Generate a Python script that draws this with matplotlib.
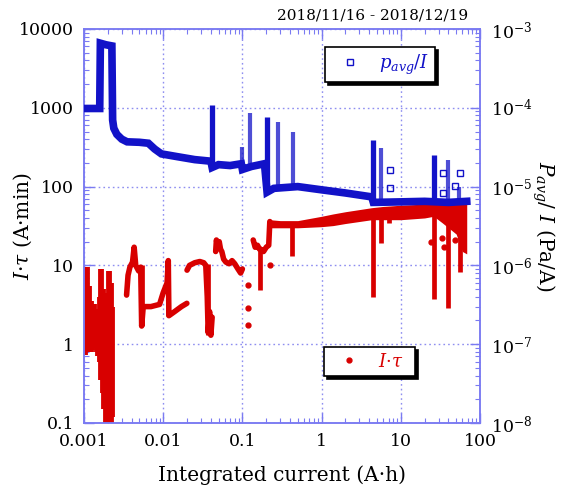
import numpy as np
import matplotlib
matplotlib.use("Agg")
import matplotlib.pyplot as plt
from matplotlib.lines import Line2D
from matplotlib.ticker import FuncFormatter, NullFormatter

plt.rcParams["font.family"] = "DejaVu Serif"
plt.rcParams["mathtext.fontset"] = "dejavuserif"
plt.rcParams["axes.unicode_minus"] = False

BLUE = "#1212c8"
RED = "#d80000"
SPINE = "#7a7af2"
GRID = "#8e8ef0"

# ---- p_avg / I  (Pa/A, right axis) ------------------------------------------
pavg_x = [0.001, 0.00158, 0.00161, 0.0019, 0.00225, 0.0023, 0.00238, 0.0026,
          0.0030, 0.0035, 0.005, 0.0065, 0.0078, 0.0095, 0.015, 0.025, 0.040, 0.0415,
          0.05, 0.07, 0.097, 0.100, 0.13, 0.19, 0.205, 0.25, 0.5, 1.0, 2.0,
          4.3, 4.5, 10, 20, 40, 68]
pavg_y = [9.8e-5, 9.8e-5, 6.6e-4, 6.3e-4, 6.1e-4, 7.0e-5, 5.5e-5, 4.6e-5,
          4.0e-5, 3.7e-5, 3.65e-5, 3.55e-5, 3.0e-5, 2.6e-5, 2.4e-5, 2.2e-5, 2.1e-5, 1.75e-5,
          1.9e-5, 1.85e-5, 1.95e-5, 1.65e-5, 1.8e-5, 1.95e-5, 8.5e-6, 9.5e-6, 1.0e-5,
          9.1e-6, 8.3e-6, 7.4e-6, 6.3e-6, 6.4e-6, 6.5e-6, 6.3e-6, 6.5e-6]

# solid spikes and stacks of hollow squares
pavg_spike_x = [0.0412, 0.205, 4.4, 26]
pavg_spike_lo = [1.7e-5, 8.3e-6, 6.0e-6, 6.0e-6]
pavg_spike_hi = [1.1e-4, 7.6e-5, 3.9e-5, 2.5e-5]
pavg_stack_x = [0.098, 0.125, 0.28, 0.435, 5.6, 40, 54]
pavg_stack_lo = [1.7e-5, 1.8e-5, 9.5e-6, 9.5e-6, 6.0e-6, 6.0e-6, 6.0e-6]
pavg_stack_hi = [3.2e-5, 8.6e-5, 6.6e-5, 4.9e-5, 3.1e-5, 2.2e-5, 1.0e-5]

pavg_pts_x = [7.3, 7.3, 34, 56, 34, 48]
pavg_pts_y = [1.62e-5, 9.6e-6, 1.5e-5, 1.48e-5, 8.3e-6, 1.03e-5]

# ---- I*tau  (A*min, left axis) -----------------------------------------------
itau_cloud_x = [0.00100, 0.00104, 0.00108, 0.00112, 0.00117, 0.00122, 0.00128,
                0.00134, 0.00140, 0.00146, 0.00152, 0.00159, 0.00166, 0.00173,
                0.00180, 0.00188, 0.00196, 0.00204, 0.00212, 0.00220, 0.00228]
itau_cloud_lo = [0.75, 0.72, 0.8, 0.85, 0.9, 0.8, 0.85, 0.95, 0.9, 0.8, 0.7,
                 0.6, 0.35, 0.24, 0.15, 0.1, 0.1, 0.1, 0.1, 0.1, 0.12]
itau_cloud_hi = [2.8, 3.2, 9.5, 4.5, 5.5, 3.5, 3.0, 3.2, 2.6, 2.4, 2.8, 4.0,
                 9.0, 5.0, 3.5, 4.5, 2.8, 8.5, 5.0, 6.0, 3.0]

nan = np.nan
itau_x = [0.00345, 0.0036, 0.0038, 0.0041, 0.0043, 0.0045, 0.0049, 0.0052, 0.00535,
          0.0056, 0.0070, 0.0090, 0.0100, 0.0112, 0.0116, 0.0118, 0.0140, 0.0170, 0.0199,
          nan,
          0.0200, 0.0215, 0.025, 0.029, 0.0325, 0.0345, 0.0360, 0.0370, 0.0385, 0.040, 0.0415,
          nan,
          0.046, 0.047, 0.049, 0.051, 0.053, 0.055, 0.058, 0.062, 0.068, 0.074, 0.080,
          0.088, 0.095, 0.100,
          nan,
          0.137, 0.145, 0.155, 0.165, 0.170, 0.185, 0.20, 0.215, 0.222]
itau_y = [4.2, 7.5, 9.5, 11, 17, 10, 8.5, 9.5, 1.7,
          3.0, 3.0, 3.2, 4.5, 6.0, 11.5, 2.3, 2.6, 3.0, 3.3,
          nan,
          8.7, 10.0, 10.8, 11.2, 10.8, 10.0, 4.0, 1.4, 2.6, 1.3, 2.2,
          nan,
          15, 21, 17, 20, 16, 15, 12, 11, 10.5, 11.5, 10.5,
          9.0, 8.0, 9.0,
          nan,
          21, 17, 18, 16, 16, 15, 17, 18, 36]

itau_band_x = [0.222, 0.30, 0.50, 1.0, 1.4, 2.0, 4.3, 6.0, 10, 20, 26, 33, 40, 50, 60, 68]
itau_band_lo = [30, 30, 30, 31, 32, 34, 38, 38, 38, 40, 42, 35, 30, 25, 15, 14]
itau_band_hi = [38, 37, 37, 42, 45, 48, 54, 56, 58, 60, 62, 60, 60, 62, 66, 68]

itau_spike_x = [0.00535, 0.0116, 0.0365, 0.167, 0.42, 4.45, 5.6, 7.1, 26.5, 39, 56]
itau_spike_lo = [1.7, 2.3, 1.3, 4.9, 13, 4.0, 19, 35, 3.7, 2.9, 8.3]
itau_spike_hi = [10, 11.7, 10.5, 17, 36, 50, 50, 50, 55, 55, 55]

itau_pts_x = [0.118, 0.118, 0.118, 0.224, 33, 35, 48, 24]
itau_pts_y = [5.6, 2.9, 1.75, 10, 22, 17, 21, 20]


def decade(v, _pos=None):
    return f"{v:g}"


fig = plt.figure(figsize=(5.61, 4.88), dpi=100)
ax = fig.add_axes([0.1497, 0.1332, 0.7059, 0.8074])
ax2 = ax.twinx()

# red: I*tau
ax.vlines(itau_cloud_x, itau_cloud_lo, itau_cloud_hi, color=RED, lw=4.2, zorder=2)
ax.vlines(itau_spike_x, itau_spike_lo, itau_spike_hi, color=RED, lw=3.4, zorder=2)
ax.plot(itau_x, itau_y, color=RED, lw=4.0, solid_capstyle="round",
        solid_joinstyle="round", zorder=2)
ax.fill_between(itau_band_x, itau_band_lo, itau_band_hi, color=RED, lw=0, zorder=2)
ax.plot(itau_pts_x, itau_pts_y, "o", color=RED, ms=3.5, zorder=2)

# blue: p_avg / I
ax2.plot(pavg_x, pavg_y, color=BLUE, lw=5.5, solid_joinstyle="miter", zorder=3)
ax2.vlines(pavg_spike_x, pavg_spike_lo, pavg_spike_hi, color=BLUE, lw=3.8, zorder=3)
ax2.vlines(pavg_stack_x, pavg_stack_lo, pavg_stack_hi, color=BLUE, lw=3.0,
           alpha=0.75, zorder=3)
ax2.plot(pavg_pts_x, pavg_pts_y, "s", mfc="none", mec=BLUE, ms=4, mew=1, zorder=3)

ax.set_xscale("log")
ax.set_yscale("log")
ax2.set_yscale("log")
ax.set_xlim(1e-3, 100)
ax.set_ylim(0.1, 1e4)
ax2.set_ylim(1e-8, 1e-3)

ax.xaxis.set_major_formatter(FuncFormatter(decade))
ax.yaxis.set_major_formatter(FuncFormatter(decade))
ax.xaxis.set_minor_formatter(NullFormatter())
ax.yaxis.set_minor_formatter(NullFormatter())
ax2.yaxis.set_minor_formatter(NullFormatter())

ax.grid(True, which="major", color=GRID, ls=(0, (1.2, 2.2)), lw=1.0, zorder=0)
ax.tick_params(which="both", direction="in", top=True, right=False,
               color=SPINE, labelsize=12.5)
ax.tick_params(which="major", length=7, width=1, pad=7)
ax.tick_params(which="minor", length=3.5, width=0.8)
ax2.tick_params(which="both", direction="in", color=SPINE, labelsize=12.5)
ax2.tick_params(which="major", length=7, width=1, pad=8)
ax2.tick_params(which="minor", length=3.5, width=0.8)
for a in (ax, ax2):
    for s in a.spines.values():
        s.set_color(SPINE)
        s.set_linewidth(1.1)

ax.set_xlabel("Integrated current (A·h)", fontsize=14.5, va="center")
ax.xaxis.set_label_coords(0.5, -0.132)
ax.set_ylabel("$I$·$\\tau$ (A·min)", fontsize=14.5, va="center")
ax.yaxis.set_label_coords(-0.155, 0.5)
ax2.set_ylabel("$P_{avg}$/ $I$ (Pa/A)", fontsize=14.5, rotation=270, va="center")
ax2.yaxis.set_label_coords(1.16, 0.5)

shadow = {"color": "black", "alpha": 1.0}
h_blue = Line2D([], [], ls="none", marker="s", mfc="none", mec=BLUE, ms=4.5, mew=1)
leg2 = ax2.legend([h_blue], ["$p_{avg}$/$I$"], loc="upper left",
                  bbox_to_anchor=(0.6086, 0.9543, 0.2778, 0), mode="expand",
                  borderaxespad=0, borderpad=0.3, handlelength=2.2,
                  handletextpad=0.5, fancybox=False, shadow=shadow,
                  framealpha=1, edgecolor="black", labelcolor=BLUE, fontsize=13)
leg2.get_frame().set_linewidth(1.2)

h_red = Line2D([], [], ls="none", marker="o", color=RED, ms=3.5)
leg = ax.legend([h_red], ["$I$·$\\tau$"], loc="upper left",
                bbox_to_anchor=(0.6061, 0.1929, 0.2298, 0), mode="expand",
                borderaxespad=0, borderpad=0.3, handlelength=2.2,
                handletextpad=0.5, fancybox=False, shadow=shadow,
                framealpha=1, edgecolor="black", labelcolor=RED, fontsize=13)
leg.get_frame().set_linewidth(1.2)

fig.text(0.834, 0.969, "2018/11/16 - 2018/12/19", ha="right", va="center",
         fontsize=11)

fig.savefig("out.png", dpi=100)
